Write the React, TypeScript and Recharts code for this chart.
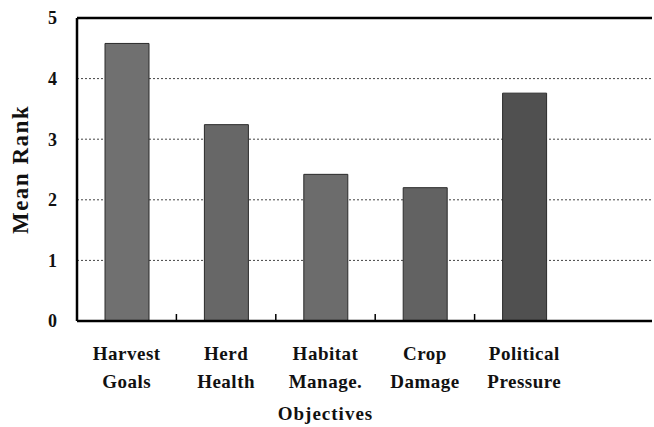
import React from "react";
import { BarChart, Bar, XAxis, YAxis, CartesianGrid, Cell, ReferenceLine, Label } from "recharts";

const categories = ["Harvest Goals", "Herd Health", "Habitat Manage.", "Crop Damage", "Political Pressure"];
const line1 = ["Harvest", "Herd", "Habitat", "Crop", "Political"];
const line2 = ["Goals", "Health", "Manage.", "Damage", "Pressure"];
const meanRank = [4.58, 3.24, 2.42, 2.2, 3.76];
const yTicks = [0, 1, 2, 3, 4, 5];

const barColors = ["#707070", "#676767", "#6c6c6c", "#626262", "#505050"];

const data = categories.map((c, i) => ({ name: c, value: meanRank[i], l1: line1[i], l2: line2[i] }));

const FONT = "'Liberation Serif', 'DejaVu Serif', serif";

const XTick = (props: any) => {
  const { x, y, payload, index } = props;
  const i = payload.index ?? index;
  const off = payload.offset ?? 50;
  const axisY = y - 8;
  return (
    <g>
      {i < categories.length - 1 && (
        <line x1={x + off} x2={x + off} y1={axisY - 7} y2={axisY} stroke="#000" strokeWidth={1.5} />
      )}
      <text x={x} y={y + 31} textAnchor="middle" fontFamily={FONT} fontWeight="bold" fontSize={19} letterSpacing={0.5} fill="#111">
        <tspan x={x} dy={0}>{line1[i]}</tspan>
        <tspan x={x} dy={28}>{line2[i]}</tspan>
      </text>
    </g>
  );
};

export default function App() {
  return (
    <div style={{ position: "absolute", left: 0, top: 0, background: "#fff" }}>
      <BarChart
        width={654}
        height={427}
        data={data}
        margin={{ top: 18, right: 2, left: 0, bottom: 0 }}
        barCategoryGap={0}
      >
        <CartesianGrid yAxisId="left" vertical={false} stroke="#444" strokeDasharray="2 2" strokeWidth={1} />
        <XAxis
          dataKey="name"
          height={106}
          padding={{ left: 0, right: 78 }}
          axisLine={{ stroke: "#000", strokeWidth: 2.5 }}
          tickLine={false}
          interval={0}
          tick={<XTick />}
        >
          <Label
            value="Objectives"
            position="insideBottom"
            offset={7}
            dx={-39}
            style={{ fontFamily: FONT, fontWeight: "bold", fontSize: 19, letterSpacing: 1, fill: "#111" }}
          />
        </XAxis>
        <YAxis
          yAxisId="left"
          width={77}
          domain={[0, 5]}
          ticks={yTicks}
          interval={0}
          axisLine={{ stroke: "#000", strokeWidth: 2.5 }}
          tickLine={false}
          tickMargin={14}
          tick={{ fontFamily: FONT, fontWeight: "bold", fontSize: 18, fill: "#111" }}
        >
          <Label
            value="Mean Rank"
            angle={-90}
            position="insideLeft"
            offset={20}
            style={{ fontFamily: FONT, fontWeight: "bold", fontSize: 23, letterSpacing: 1.5, fill: "#111", textAnchor: "middle" }}
          />
        </YAxis>
        <YAxis
          yAxisId="right"
          orientation="right"
          width={0}
          domain={[0, 5]}
          tick={false}
          tickLine={false}
          axisLine={{ stroke: "#000", strokeWidth: 2 }}
        />
        <ReferenceLine yAxisId="left" y={5} stroke="#000" strokeWidth={2.5} />
        <Bar yAxisId="left" dataKey="value" barSize={44} isAnimationActive={false} stroke="#2a2a2a" strokeWidth={1}>
          {data.map((d, i) => (
            <Cell key={d.name} fill={barColors[i]} />
          ))}
        </Bar>
      </BarChart>
    </div>
  );
}
